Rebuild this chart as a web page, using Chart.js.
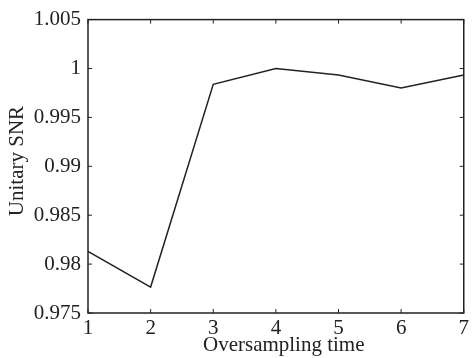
<!DOCTYPE html>
<html>
<head>
<meta charset="utf-8">
<script src="https://cdn.jsdelivr.net/npm/chart.js@4"></script>
<style>
  html, body { margin: 0; padding: 0; background: #fff; }
  #wrap { width: 472px; height: 358px; }
</style>
</head>
<body>
<div id="wrap"><canvas id="snrChart" width="472" height="358"></canvas></div>
<script>
const oversampling = [1, 2, 3, 4, 5, 6, 7];
const unitarySnr = [0.9813, 0.97765, 0.99838, 1.0, 0.99933, 0.998, 0.99933];
const yTicks = [0.975, 0.98, 0.985, 0.99, 0.995, 1, 1.005];

const serif = '"Liberation Serif", "Times New Roman", serif';

// box round the plot plus inward ticks on all four sides
const boxTicks = {
  id: 'boxTicks',
  afterDraw(chart) {
    const { ctx, chartArea: a, scales } = chart;
    const len = 4;
    ctx.save();
    ctx.strokeStyle = '#222';
    ctx.lineWidth = 1.5;
    ctx.strokeRect(a.left, a.top, a.right - a.left, a.bottom - a.top);
    ctx.lineWidth = 1;
    ctx.beginPath();
    scales.x.ticks.forEach(t => {
      const px = scales.x.getPixelForValue(t.value);
      ctx.moveTo(px, a.bottom); ctx.lineTo(px, a.bottom - len);
      ctx.moveTo(px, a.top); ctx.lineTo(px, a.top + len);
    });
    scales.y.ticks.forEach(t => {
      const py = scales.y.getPixelForValue(t.value);
      ctx.moveTo(a.left, py); ctx.lineTo(a.left + len, py);
      ctx.moveTo(a.right, py); ctx.lineTo(a.right - len, py);
    });
    ctx.stroke();
    ctx.restore();
  }
};

new Chart(document.getElementById('snrChart'), {
  type: 'line',
  data: {
    datasets: [{
      data: oversampling.map((x, i) => ({ x: x, y: unitarySnr[i] })),
      borderColor: '#222',
      borderWidth: 1.5,
      pointRadius: 0,
      tension: 0,
      fill: false
    }]
  },
  options: {
    responsive: false,
    animation: false,
    layout: { padding: { left: 0, right: 3, top: 18, bottom: 0 } },
    plugins: { legend: { display: false }, tooltip: { enabled: false } },
    scales: {
      x: {
        type: 'linear',
        min: 1,
        max: 7,
        grid: { display: false, drawTicks: false },
        border: { display: false },
        ticks: {
          stepSize: 1,
          padding: 3,
          color: '#222',
          font: { family: serif, size: 21 }
        },
        title: {
          display: true,
          text: '   Oversampling time',
          color: '#222',
          font: { family: serif, size: 21 },
          padding: { top: 0, bottom: 0 }
        },
        afterFit(s) { s.height = 45; }
      },
      y: {
        min: 0.975,
        max: 1.005,
        grid: { display: false, drawTicks: false },
        border: { display: false },
        afterBuildTicks(s) { s.ticks = yTicks.map(v => ({ value: v })); },
        ticks: {
          padding: 7,
          color: '#222',
          font: { family: serif, size: 21 },
          callback: v => String(+v.toFixed(3))
        },
        title: {
          display: true,
          text: '  Unitary SNR',
          color: '#222',
          font: { family: serif, size: 21 },
          padding: { top: 5, bottom: 0 }
        },
        afterFit(s) { s.width = 88; }
      }
    }
  },
  plugins: [boxTicks]
});
</script>
</body>
</html>
